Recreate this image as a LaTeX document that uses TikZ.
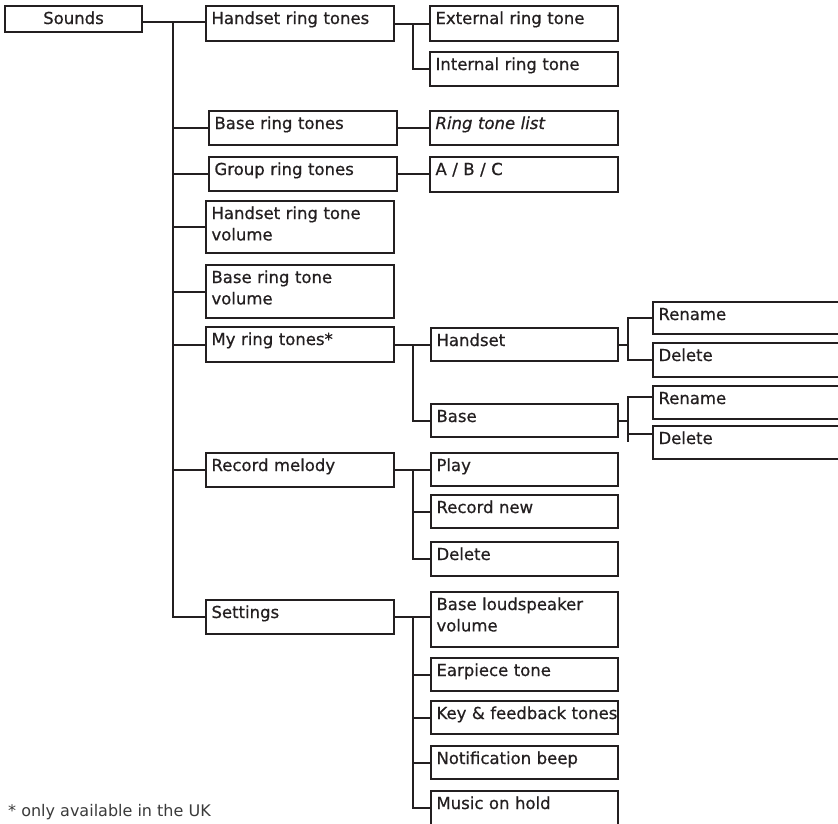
\documentclass[tikz,border=0pt]{standalone}
\usepackage{fontspec}
\setmainfont{DejaVu Sans}
\newfontfamily\boxfont{DejaVu Sans}[FakeBold=0.7]
\definecolor{lc}{HTML}{231F20}
\definecolor{fc}{HTML}{3A3A3A}
\newcommand\mybx[7][]{%
  \pgfmathsetmacro\bxw{#5-#3}%
  \pgfmathsetmacro\bxh{#6-#4}%
  \pgfmathsetmacro\bxtw{\bxw-11}%
  \pgfmathsetmacro\bxtd{\bxh-18}%
  \node[box, anchor=north west, text width=\bxtw pt, text height=18pt, text depth=\bxtd pt, #1] (#2) at (#3,-#4) {#7};}
\begin{document}
\begin{tikzpicture}[x=1pt,y=1pt,
  box/.style={draw=lc, line width=2pt, inner xsep=5.5pt, inner ysep=0pt, outer sep=0pt,
    align=left, font=\boxfont\fontsize{16.5}{21.4}\selectfont, text=lc},
  conn/.style={draw=lc, line width=2pt}]
\useasboundingbox (0,0) rectangle (838,-823);
\clip (0,0) rectangle (838,-823);
% level 0 / 1
\mybx[align=center]{sounds}{5}{6}{142}{32}{Sounds}
\mybx{hrt}{206}{6}{394}{41}{Handset ring tones}
\mybx{brt}{209}{111}{397}{145}{Base ring tones}
\mybx{grt}{209}{157}{397}{191}{Group ring tones}
\mybx{hrtv}{206}{201}{394}{253}{Handset ring tone\\volume}
\mybx{brtv}{206}{265}{394}{318}{Base ring tone\\volume}
\mybx{mrt}{206}{327}{394}{362}{My ring tones*}
\mybx{rm}{206}{453}{394}{487}{Record melody}
\mybx{set}{206}{600}{394}{634}{Settings}
% level 2
\mybx{ext}{430}{6}{618}{41}{External ring tone}
\mybx{int}{430}{52}{618}{86}{Internal ring tone}
\mybx{rtl}{430}{111}{618}{145}{\textit{Ring tone list}}
\mybx{abc}{430}{157}{618}{192}{A / B / C}
\mybx{hs}{431}{328}{618}{361}{Handset}
\mybx{bs}{431}{404}{618}{437}{Base}
\mybx{play}{431}{453}{618}{486}{Play}
\mybx{recn}{431}{495}{618}{528}{Record new}
\mybx{del3}{431}{542}{618}{576}{Delete}
\mybx{blv}{431}{592}{618}{647}{Base loudspeaker\\volume}
\mybx{ear}{431}{658}{618}{691}{Earpiece tone}
\mybx{key}{431}{701}{618}{734}{\mbox{Key \& feedback tones}}
\mybx{notif}{431}{746}{618}{779}{Notification beep}
\mybx{moh}{431}{791}{618}{825}{Music on hold}
% level 3
\mybx{ren1}{653}{302}{880}{334}{Rename}
\mybx{del1}{653}{343}{880}{377}{Delete}
\mybx{ren2}{653}{386}{880}{419}{Rename}
\mybx{del2}{653}{426}{880}{459}{Delete}
% connectors
\coordinate (T) at (173,-21.7);
\coordinate (A) at (413,0);
\coordinate (C) at (628,0);
\draw[conn] ([yshift=-2.7pt]sounds.east) -- ([yshift=1.8pt]hrt.west);
\draw[conn] (T) |- (set.west);
\foreach \n in {brt,grt,hrtv,brtv,mrt,rm} \draw[conn] (\n.west) -- (\n.west -| T);
\draw[conn] (hrt.east) -- (ext.west);
\draw[conn] (hrt.east -| A) |- (int.west);
\draw[conn] (brt.east) -- (rtl.west);
\draw[conn] (grt.east) -- (grt.east -| abc.west);
\draw[conn] (mrt.east) -- (hs.west);
\draw[conn] (mrt.east -| A) |- (bs.west);
\draw[conn] (rm.east) -- (rm.east -| play.west);
\draw[conn] (rm.east -| A) |- (del3.west);
\draw[conn] (recn.west) -- (recn.west -| A);
\draw[conn] (set.east) -- (set.east -| blv.west);
\draw[conn] (set.east -| A) |- (moh.west);
\foreach \n in {ear,key,notif} \draw[conn] (\n.west) -- (\n.west -| A);
\draw[conn] (hs.east) -- (hs.east -| C);
\draw[conn] (ren1.west) -| (C |- del1.west) -- (del1.west);
\draw[conn] (bs.east) -- (bs.east -| C);
\coordinate (c2) at (628,-442);
\draw[conn] ([yshift=5.5pt]ren2.west) -| (c2);
\draw[conn] ([yshift=8.5pt]del2.west) -- ([yshift=8.5pt]del2.west -| C);
% footnote
\node[anchor=base west, font=\fontsize{16}{19}\selectfont, text=fc, inner sep=0pt] (fn) at (8,-816.5) {* only available in the UK};
\end{tikzpicture}
\end{document}
